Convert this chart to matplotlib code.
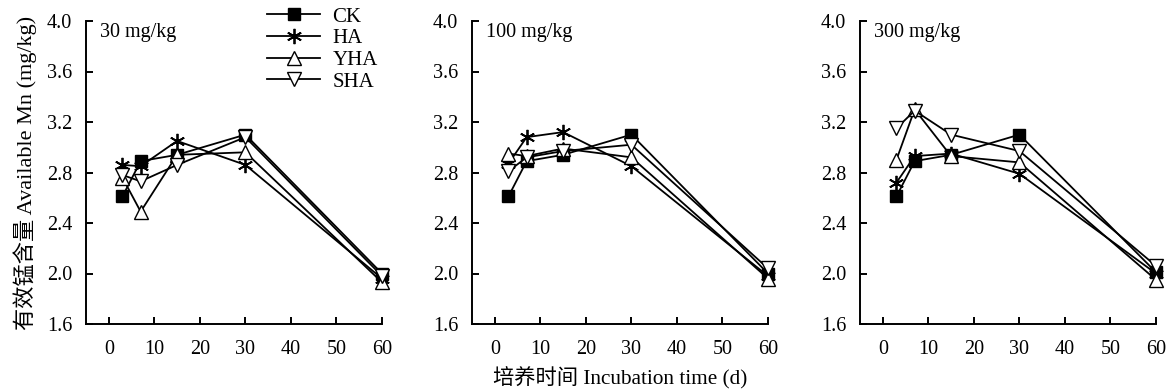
import matplotlib
matplotlib.use("Agg")
import matplotlib.pyplot as plt

plt.rcParams["font.family"] = ["Liberation Serif", "Noto Sans CJK SC"]
plt.rcParams["font.size"] = 14.5

days = [3, 7, 15, 30, 60]
doses = ["30 mg/kg", "100 mg/kg", "300 mg/kg"]
treatments = ["CK", "HA", "YHA", "SHA"]

# available Mn (mg/kg), one list per treatment, for each dose
mn_30 = {
    "CK": [2.61, 2.89, 2.94, 3.10, 2.00],
    "HA": [2.86, 2.85, 3.05, 2.86, 1.96],
    "YHA": [2.76, 2.49, 2.94, 2.96, 1.93],
    "SHA": [2.78, 2.73, 2.86, 3.08, 1.98],
}
mn_100 = {
    "CK": [2.61, 2.89, 2.94, 3.10, 2.00],
    "HA": [2.87, 3.08, 3.12, 2.85, 1.98],
    "YHA": [2.95, 2.93, 2.99, 2.92, 1.96],
    "SHA": [2.81, 2.92, 2.97, 3.02, 2.04],
}
mn_300 = {
    "CK": [2.61, 2.89, 2.94, 3.10, 2.01],
    "HA": [2.72, 2.93, 2.95, 2.79, 2.00],
    "YHA": [2.90, 3.30, 2.93, 2.88, 1.95],
    "SHA": [3.15, 3.29, 3.10, 2.97, 2.06],
}
panels = [mn_30, mn_100, mn_300]

styles = {
    "CK": dict(marker="s", markerfacecolor="black", markersize=8),
    "HA": dict(marker=(6, 2, 0), markersize=11, markeredgewidth=1.3),
    "YHA": dict(marker="^", markerfacecolor="white", markersize=10),
    "SHA": dict(marker="v", markerfacecolor="white", markersize=10),
}

fig = plt.figure(figsize=(11.73, 3.92), dpi=100)
lefts = [86, 472, 860]
for i, (data, dose) in enumerate(zip(panels, doses)):
    ax = fig.add_axes([lefts[i] / 1173, 68 / 392, 296 / 1173, 303 / 392])
    for t in treatments:
        ax.plot(days, data[t], color="black", linewidth=1.3, label=t,
                markeredgecolor="black", clip_on=False, **styles[t])
    ax.set_xlim(-5, 60)
    ax.set_ylim(1.6, 4.0)
    ax.set_xticks([0, 10, 20, 30, 40, 50, 60])
    ax.set_yticks([1.6, 2.0, 2.4, 2.8, 3.2, 3.6, 4.0])
    ax.yaxis.set_major_formatter(matplotlib.ticker.FormatStrFormatter("%.1f"))
    ax.spines["top"].set_visible(False)
    ax.spines["right"].set_visible(False)
    for s in ("left", "bottom"):
        ax.spines[s].set_linewidth(1.4)
    ax.tick_params(direction="in", length=5, width=1.4, labelsize=14.5)
    ax.tick_params(axis="y", pad=10)
    ax.tick_params(axis="x", pad=11.5)
    ax.text(0.047, 0.995, dose, transform=ax.transAxes, ha="left", va="top",
            fontsize=14.5)
    if i == 0:
        ax.set_ylabel("有效锰含量 Available Mn (mg/kg)", fontsize=16, labelpad=7)
        ax.legend(loc="upper left", bbox_to_anchor=(0.577, 1.08), frameon=False,
                  handlelength=2.55, labelspacing=0.1, handletextpad=0.58,
                  borderpad=0, fontsize=15)

fig.text(620 / 1173, 14 / 392, "培养时间 Incubation time (d)", ha="center",
         va="center", fontsize=15.3)

fig.savefig("out.png", dpi=100)
